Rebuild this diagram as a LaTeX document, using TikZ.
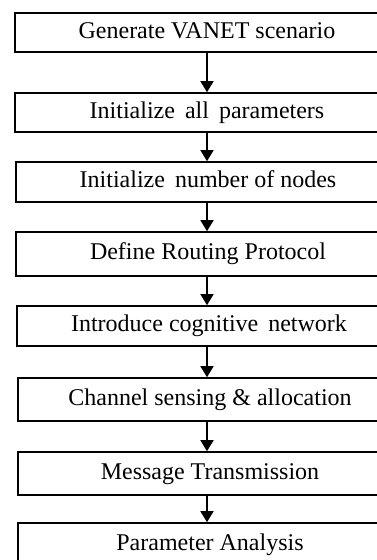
\documentclass[tikz,border=0pt]{standalone}
\usepackage{fontspec}
\setmainfont{Liberation Serif}
\usetikzlibrary{arrows.meta}

\tikzset{
    stepbox/.style={draw, line width=1.6pt, minimum width=384pt, minimum height=40pt,
        inner sep=0pt, text height=16pt, text depth=5pt, font=\fontsize{24}{28}\selectfont},
    flow/.style={line width=1.5pt, -{Triangle[width=13pt,length=11pt]}}
}

\begin{document}
\begin{tikzpicture}[x=1pt, y=-1pt]
    \useasboundingbox (0,0) rectangle (377,560);
    \clip (0,0) rectangle (377,560);

    % Draw nodes
    \node[stepbox, minimum height=39pt] (gen) at (207, 32.5) {Generate VANET scenario};
    \node[stepbox, minimum height=39pt] (par) at (207, 112.5) {Initialize\, all\, parameters};
    \node[stepbox] (num) at (208, 182) {Initialize\, number of nodes};
    \node[stepbox, minimum height=44pt] (rout) at (208, 254) {Define Routing Protocol};
    \node[stepbox] (cog) at (209, 326) {Introduce cognitive\, network};
    \node[stepbox, minimum height=43pt] (chan) at (210, 399.5) {Channel sensing \& allocation};
    \node[stepbox, minimum height=43pt] (msg) at (210, 473.5) {Message Transmission};
    \node[stepbox, minimum height=43pt] (ana) at (210, 544.5) {Parameter Analysis};

    % Draw edges (directed)
    \draw[flow] (gen.south -| 207,0) -- (par.north -| 207,0);
    \draw[flow] (par.south -| 207,0) -- (num.north -| 207,0);
    \draw[flow] (num.south -| 207,0) -- (rout.north -| 207,0);
    \draw[flow] (rout.south -| 207,0) -- (cog.north -| 207,0);
    \draw[flow] (cog.south -| 207,0) -- (chan.north -| 207,0);
    \draw[flow] (chan.south -| 207,0) -- (msg.north -| 207,0);
    \draw[flow] (msg.south -| 207,0) -- (ana.north -| 207,0);
\end{tikzpicture}
\end{document}
